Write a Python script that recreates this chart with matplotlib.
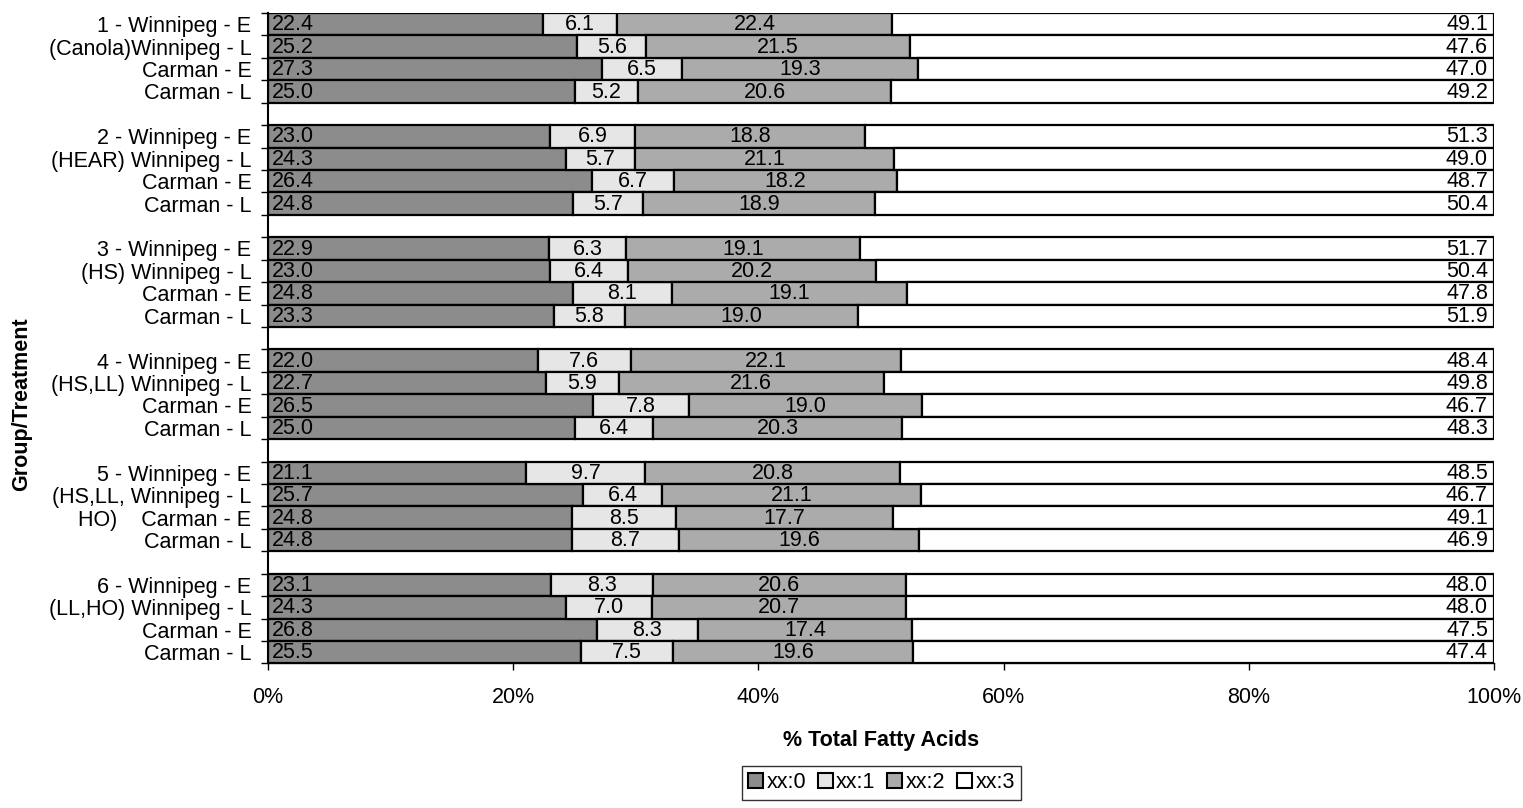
import matplotlib
matplotlib.use("Agg")
import matplotlib.pyplot as plt
from matplotlib.patches import Patch
import numpy as np

plt.rcParams['font.family'] = ['Liberation Sans', 'DejaVu Sans']

row_labels = [
    "1 - Winnipeg - E", "(Canola)Winnipeg - L", "Carman - E", "Carman - L", "",
    "2 - Winnipeg - E", "(HEAR) Winnipeg - L", "Carman - E", "Carman - L", "",
    "3 - Winnipeg - E", "(HS) Winnipeg - L", "Carman - E", "Carman - L", "",
    "4 - Winnipeg - E", "(HS,LL) Winnipeg - L", "Carman - E", "Carman - L", "",
    "5 - Winnipeg - E", "(HS,LL, Winnipeg - L", "HO)    Carman - E", "Carman - L", "",
    "6 - Winnipeg - E", "(LL,HO) Winnipeg - L", "Carman - E", "Carman - L",
]

series_names = ["xx:0", "xx:1", "xx:2", "xx:3"]

xx0 = [22.4, 25.2, 27.3, 25.0, None, 23.0, 24.3, 26.4, 24.8, None,
       22.9, 23.0, 24.8, 23.3, None, 22.0, 22.7, 26.5, 25.0, None,
       21.1, 25.7, 24.8, 24.8, None, 23.1, 24.3, 26.8, 25.5]
xx1 = [6.1, 5.6, 6.5, 5.2, None, 6.9, 5.7, 6.7, 5.7, None,
       6.3, 6.4, 8.1, 5.8, None, 7.6, 5.9, 7.8, 6.4, None,
       9.7, 6.4, 8.5, 8.7, None, 8.3, 7.0, 8.3, 7.5]
xx2 = [22.4, 21.5, 19.3, 20.6, None, 18.8, 21.1, 18.2, 18.9, None,
       19.1, 20.2, 19.1, 19.0, None, 22.1, 21.6, 19.0, 20.3, None,
       20.8, 21.1, 17.7, 19.6, None, 20.6, 20.7, 17.4, 19.6]
xx3 = [49.1, 47.6, 47.0, 49.2, None, 51.3, 49.0, 48.7, 50.4, None,
       51.7, 50.4, 47.8, 51.9, None, 48.4, 49.8, 46.7, 48.3, None,
       48.5, 46.7, 49.1, 46.9, None, 48.0, 48.0, 47.5, 47.4]

x_ticks = [0, 20, 40, 60, 80, 100]
x_tick_labels = ["0%", "20%", "40%", "60%", "80%", "100%"]

colors = ["#8c8c8c", "#e6e6e6", "#ababab", "#ffffff"]
FS = 15.5

fig = plt.figure(figsize=(15.23, 8.08), dpi=100)
ax = fig.add_axes([0.176, 0.179, 0.805, 0.805])

series = [xx0, xx1, xx2, xx3]
n = len(row_labels)
valid = [i for i in range(n) if xx0[i] is not None]
data = np.array([[s[i] for s in series] for i in valid], dtype=float)
totals = data.sum(axis=1)
pct = data / totals[:, None] * 100
ypos = np.array(valid, dtype=float)

left = np.zeros(len(valid))
for k in range(4):
    ax.barh(ypos, pct[:, k], left=left, height=1.0, color=colors[k],
            edgecolor="black", linewidth=1.6, label=series_names[k], zorder=2)
    for j in range(len(valid)):
        val = data[j, k]
        txt = f"{val:.1f}"
        if k == 0:
            ax.text(left[j] + 0.3, ypos[j] + 0.03, txt, ha="left", va="center",
                    fontsize=FS, zorder=3)
        elif k == 3:
            ax.text(99.5, ypos[j] + 0.03, txt, ha="right", va="center",
                    fontsize=FS, zorder=3)
        else:
            ax.text(left[j] + pct[j, k] / 2, ypos[j] + 0.03, txt, ha="center",
                    va="center", fontsize=FS, zorder=3)
    left = left + pct[:, k]

ax.set_xlim(0, 100)
ax.set_ylim(n - 0.5, -0.5)

ax.set_yticks(np.arange(n))
ax.set_yticklabels(row_labels, fontsize=FS)
ax.tick_params(axis="y", which="major", length=0, pad=12)
ax.set_yticks(np.arange(-0.5, n, 1.0), minor=True)
ax.tick_params(axis="y", which="minor", length=5, width=1.0, direction="out")

ax.set_xticks(x_ticks)
ax.set_xticklabels(x_tick_labels, fontsize=FS)
ax.tick_params(axis="x", which="major", length=5, width=1.0, direction="out", pad=12)

for s in ["top", "right"]:
    ax.spines[s].set_visible(False)
ax.spines["left"].set_linewidth(1.5)
ax.spines["bottom"].set_linewidth(1.0)

ax.set_xlabel("% Total Fatty Acids", fontsize=FS, fontweight="bold", labelpad=16)
fig.text(0.014, 0.5, "Group/Treatment", rotation=90, ha="center", va="center",
         fontsize=FS, fontweight="bold")

handles = [Patch(facecolor=colors[k], edgecolor="black", linewidth=1.5,
                 label=series_names[k]) for k in range(4)]
leg = fig.legend(handles=handles, loc="center", bbox_to_anchor=(0.5787, 0.031),
                 ncol=4, fontsize=FS, frameon=True, fancybox=False,
                 handlelength=0.7, handleheight=0.7, handletextpad=0.15,
                 columnspacing=0.55, borderpad=0.3, borderaxespad=0.2,
                 edgecolor="black")
leg.get_frame().set_linewidth(1.0)

fig.savefig("out.png", dpi=100)
